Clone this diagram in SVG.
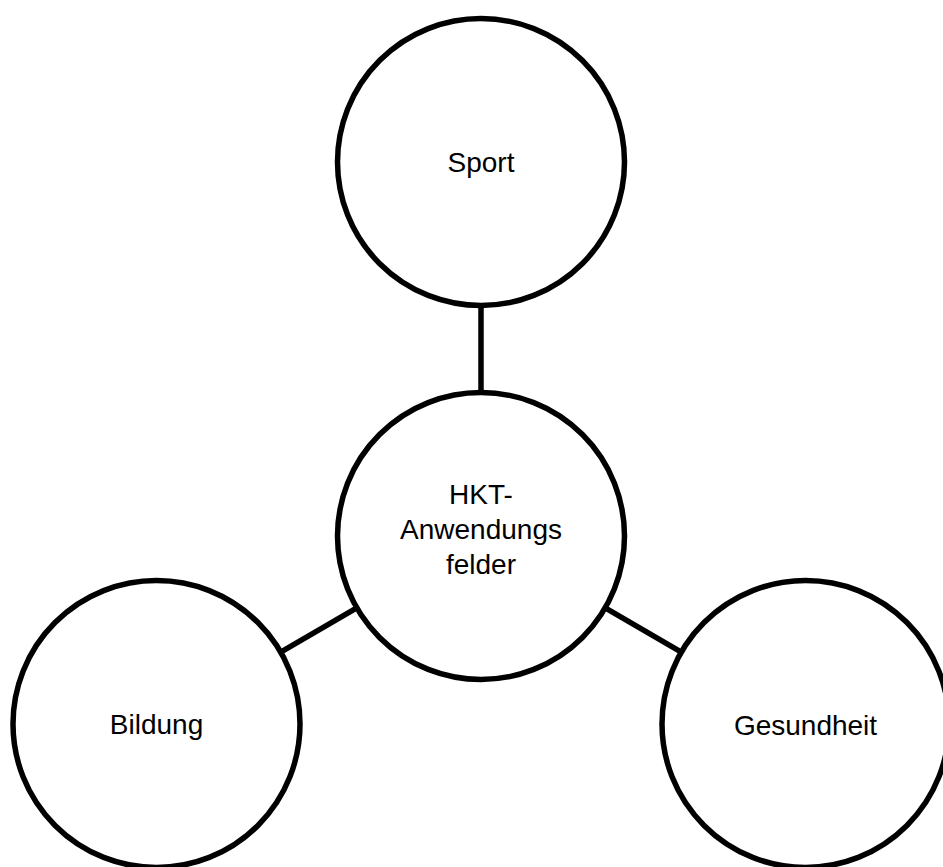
<svg xmlns="http://www.w3.org/2000/svg" width="943" height="867" viewBox="0 0 943 867">
<style>
.node circle{fill:#fff;stroke:#000;stroke-width:5.5}
.node text{font-family:"Liberation Sans",Arial,sans-serif;font-size:28px;fill:#000;text-anchor:middle}
.conn line{stroke:#000;stroke-width:5.5;stroke-linecap:butt}
</style>
<rect width="943" height="867" fill="#fff"/>
<g id="connectors" class="conn">
<line x1="481" y1="307" x2="481" y2="393"/>
<line x1="355.5" y1="608.7" x2="282" y2="651.3"/>
<line x1="606.5" y1="608.7" x2="680" y2="651.3"/>
</g>
<g id="sport" class="node">
<circle cx="481" cy="162" r="143.5"/>
<text x="481" y="172">Sport</text>
</g>
<g id="hkt" class="node">
<circle cx="481" cy="536" r="143.5"/>
<text x="481" y="504">HKT-</text>
<text x="481" y="539">Anwendungs</text>
<text x="481" y="574">felder</text>
</g>
<g id="bildung" class="node">
<circle cx="156.5" cy="724" r="143.5"/>
<text x="156.5" y="734">Bildung</text>
</g>
<g id="gesundheit" class="node">
<circle cx="805.5" cy="724" r="143.5"/>
<text x="805.5" y="735">Gesundheit</text>
</g>
</svg>
